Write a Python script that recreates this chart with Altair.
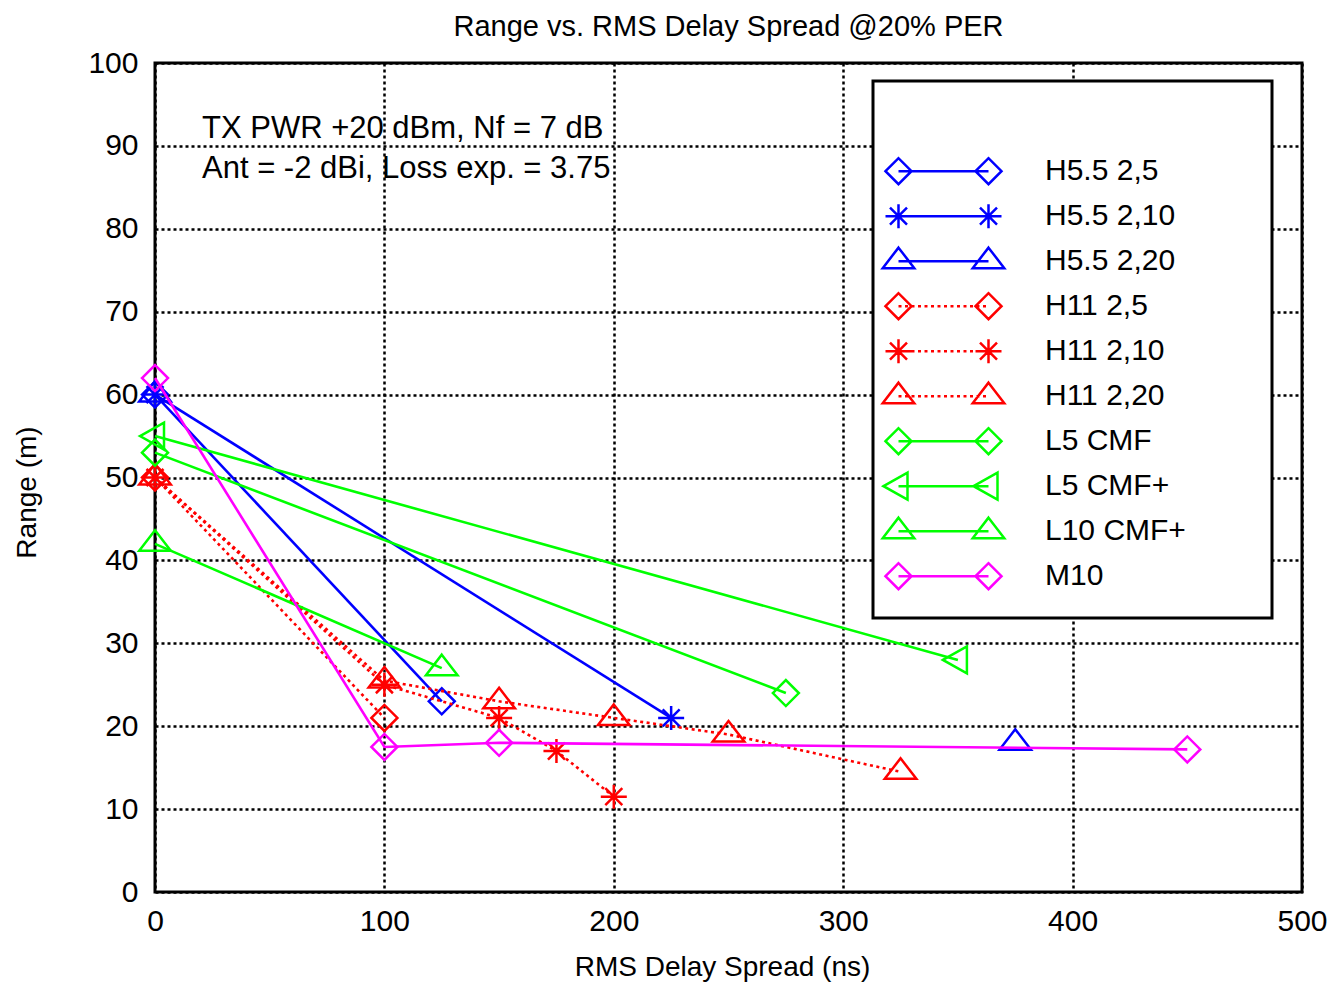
import altair as alt
import pandas as pd

FONT = "Liberation Sans"

# ---- series definitions -------------------------------------------------
SERIES = ["H5.5 2,5", "H5.5 2,10", "H5.5 2,20", "H11 2,5", "H11 2,10",
          "H11 2,20", "L5 CMF", "L5 CMF+", "L10 CMF+", "M10"]
COLORS = ["#0000ff", "#0000ff", "#0000ff", "#ff0000", "#ff0000",
          "#ff0000", "#00ff00", "#00ff00", "#00ff00", "#ff00ff"]
MARKERS = ["diamond", "star", "tri_up", "diamond", "star",
           "tri_up", "diamond", "tri_left", "tri_up", "diamond"]
DOTTED = [False, False, False, True, True, True, False, False, False, False]

# ---- data (RMS delay spread in ns, range in m) --------------------------
H55_5_X = [0, 125]
H55_5_Y = [60, 23]
H55_10_X = [0, 225]
H55_10_Y = [60, 21]
H55_20_X = [0, 100, 375]
H55_20_Y = [60, None, 18]
H11_5_X = [0, 100]
H11_5_Y = [50, 21]
H11_10_X = [0, 100, 150, 175, 200]
H11_10_Y = [50, 25, 21, 17, 11.5]
H11_20_X = [0, 100, 150, 200, 250, 325]
H11_20_Y = [50, 25.5, 23, 21, 19, 14.5]
L5_X = [0, 275]
L5_Y = [53, 24]
L5P_X = [0, 350]
L5P_Y = [55, 28]
L10P_X = [0, 125]
L10P_Y = [42, 27]
M10_X = [0, 100, 150, 450]
M10_Y = [62, 17.5, 18, 17.2]

X_TICKS = [0, 100, 200, 300, 400, 500]
Y_TICKS = [0, 10, 20, 30, 40, 50, 60, 70, 80, 90, 100]

TITLE = "Range vs. RMS Delay Spread @20% PER"
X_TITLE = "RMS Delay Spread (ns)"
Y_TITLE = "Range (m)"
NOTE1 = "TX PWR +20 dBm, Nf = 7 dB"
NOTE2 = "Ant = -2 dBi, Loss exp. = 3.75"

XS = [H55_5_X, H55_10_X, H55_20_X, H11_5_X, H11_10_X, H11_20_X, L5_X, L5P_X, L10P_X, M10_X]
YS = [H55_5_Y, H55_10_Y, H55_20_Y, H11_5_Y, H11_10_Y, H11_20_Y, L5_Y, L5P_Y, L10P_Y, M10_Y]

rows = []
for name, xs, ys in zip(SERIES, XS, YS):
    for x, y in zip(xs, ys):
        rows.append({"series": name, "delay": x, "range": y})
df = pd.DataFrame(rows)

# ---- marker geometry (pixels, relative to centre) -----------------------
MARKER_PX = {
    "diamond": [[(-13, 0), (0, -13), (13, 0), (0, 13), (-13, 0)]],
    "star": [[(-13, 0), (13, 0)], [(0, -12), (0, 12)],
             [(-8.5, -8.5), (8.5, 8.5)], [(-8.5, 8.5), (8.5, -8.5)]],
    "tri_up": [[(0, -13.5), (15.8, 7), (-15.8, 7), (0, -13.5)]],
    "tri_left": [[(-15, 0), (9, -13.5), (9, 13.5), (-15, 0)]],
}


def to_path(polys, unit, dx=0.0):
    out = []
    for poly in polys:
        closed = len(poly) > 2 and poly[0] == poly[-1]
        pts = poly[:-1] if closed else poly
        s = "M" + "L".join(f"{(px + dx) / unit:.4f},{py / unit:.4f}" for px, py in pts)
        if closed:
            s += "Z"
        out.append(s)
    return "".join(out)


MARK_UNIT = 14.0
MARK_SIZE = (2 * MARK_UNIT) ** 2
LEG_UNIT = 22.0
LEG_SIZE = (2 * LEG_UNIT) ** 2
LEG_HALF = 45.0


def legend_path(marker, dotted):
    polys = []
    if dotted:
        x = -LEG_HALF
        while x < LEG_HALF:
            polys.append([(x, 0), (min(x + 3.0, LEG_HALF), 0)])
            x += 6.5
    else:
        polys.append([(-LEG_HALF, 0), (LEG_HALF, 0)])
    s = to_path(polys, LEG_UNIT)
    s += to_path(MARKER_PX[marker], LEG_UNIT, -LEG_HALF)
    s += to_path(MARKER_PX[marker], LEG_UNIT, LEG_HALF)
    return s


LEG_PATHS = [legend_path(m, d) for m, d in zip(MARKERS, DOTTED)]

# ---- encodings ----------------------------------------------------------
x_axis = alt.Axis(values=X_TICKS, title=X_TITLE, grid=True, ticks=False, domain=False,
                  labelFont=FONT, labelFontSize=30, labelColor="black", labelPadding=14,
                  labelFlush=False, labelOverlap=False, format="d",
                  titleFont=FONT, titleFontSize=28, titleFontWeight="normal", titleColor="black",
                  titleX=567, titleY=83, titleBaseline="alphabetic", titleAlign="center",
                  gridColor="black", gridDash=[3, 3], gridWidth=2.5, gridOpacity=1)
y_axis = alt.Axis(values=Y_TICKS, title=Y_TITLE, grid=True, ticks=False, domain=False,
                  labelFont=FONT, labelFontSize=30, labelColor="black", labelPadding=17,
                  labelFlush=False, labelOverlap=False, format="d",
                  titleFont=FONT, titleFontSize=28, titleFontWeight="normal", titleColor="black",
                  titleX=-120, titleY=429, titleAngle=270, titleBaseline="alphabetic",
                  titleAlign="center",
                  gridColor="black", gridDash=[3, 3], gridWidth=2.5, gridOpacity=1)

xenc = alt.X("delay:Q", scale=alt.Scale(domain=[0, 500], nice=False, zero=False), axis=x_axis)
yenc = alt.Y("range:Q", scale=alt.Scale(domain=[0, 100], nice=False, zero=False), axis=y_axis)

base = alt.Chart(df)
layers = []
for name, color, marker, dotted in zip(SERIES, COLORS, MARKERS, DOTTED):
    sub = base.transform_filter(alt.datum.series == name)
    line_kwargs = dict(color=color, strokeWidth=2.6, invalid="break-paths-show-domains")
    if dotted:
        line_kwargs["strokeDash"] = [3, 3.5]
    layers.append(sub.mark_line(**line_kwargs).encode(x=xenc, y=yenc))
    layers.append(
        sub.mark_point(shape=to_path(MARKER_PX[marker], MARK_UNIT), size=MARK_SIZE,
                       filled=False, strokeWidth=2.5, color=color, opacity=1)
        .encode(x=xenc, y=yenc)
    )

# legend frame
box = alt.Chart(pd.DataFrame({"box": [0]})).mark_rect(
    fill="white", stroke="black", strokeWidth=3
).encode(x=alt.value(718), x2=alt.value(1117), y=alt.value(18), y2=alt.value(555))
layers.append(box)

# annotation text
for txt, ypix in [(NOTE1, 75), (NOTE2, 115)]:
    layers.append(
        alt.Chart(pd.DataFrame({"note": [txt]})).mark_text(
            align="left", baseline="alphabetic", font=FONT, fontSize=31, color="black"
        ).encode(x=alt.value(47), y=alt.value(ypix), text="note:N")
    )

# legend carrier (invisible points, legend only)
leg = alt.Legend(orient="none", legendX=723, legendY=86, title=None,
                 symbolSize=LEG_SIZE, clipHeight=44.3, rowPadding=0, padding=0,
                 labelFont=FONT, labelFontSize=30, labelColor="black", labelOffset=78,
                 symbolStrokeWidth=2.5, labelLimit=500, symbolOffset=42)
legend_layer = alt.Chart(pd.DataFrame({"series": SERIES})).mark_point(
    size=0, filled=False, strokeWidth=2.5, opacity=1
).encode(
    x=alt.value(0), y=alt.value(0),
    color=alt.Color("series:N", scale=alt.Scale(domain=SERIES, range=COLORS), legend=leg),
    shape=alt.Shape("series:N", scale=alt.Scale(domain=SERIES, range=LEG_PATHS), legend=leg),
)
layers.append(legend_layer)

chart = alt.layer(*layers).properties(
    width=1147, height=829,
    autosize=alt.AutoSizeParams(type="none"),
    padding={"left": 147, "top": 55, "right": 30, "bottom": 90},
    title=alt.TitleParams(TITLE, font=FONT, fontSize=29, fontWeight="normal", color="black",
                          anchor="middle", frame="group", offset=-17, baseline="alphabetic"),
).configure_view(stroke="black", strokeWidth=3)

chart.save("out.html", embed_options={"renderer": "svg", "actions": False})
